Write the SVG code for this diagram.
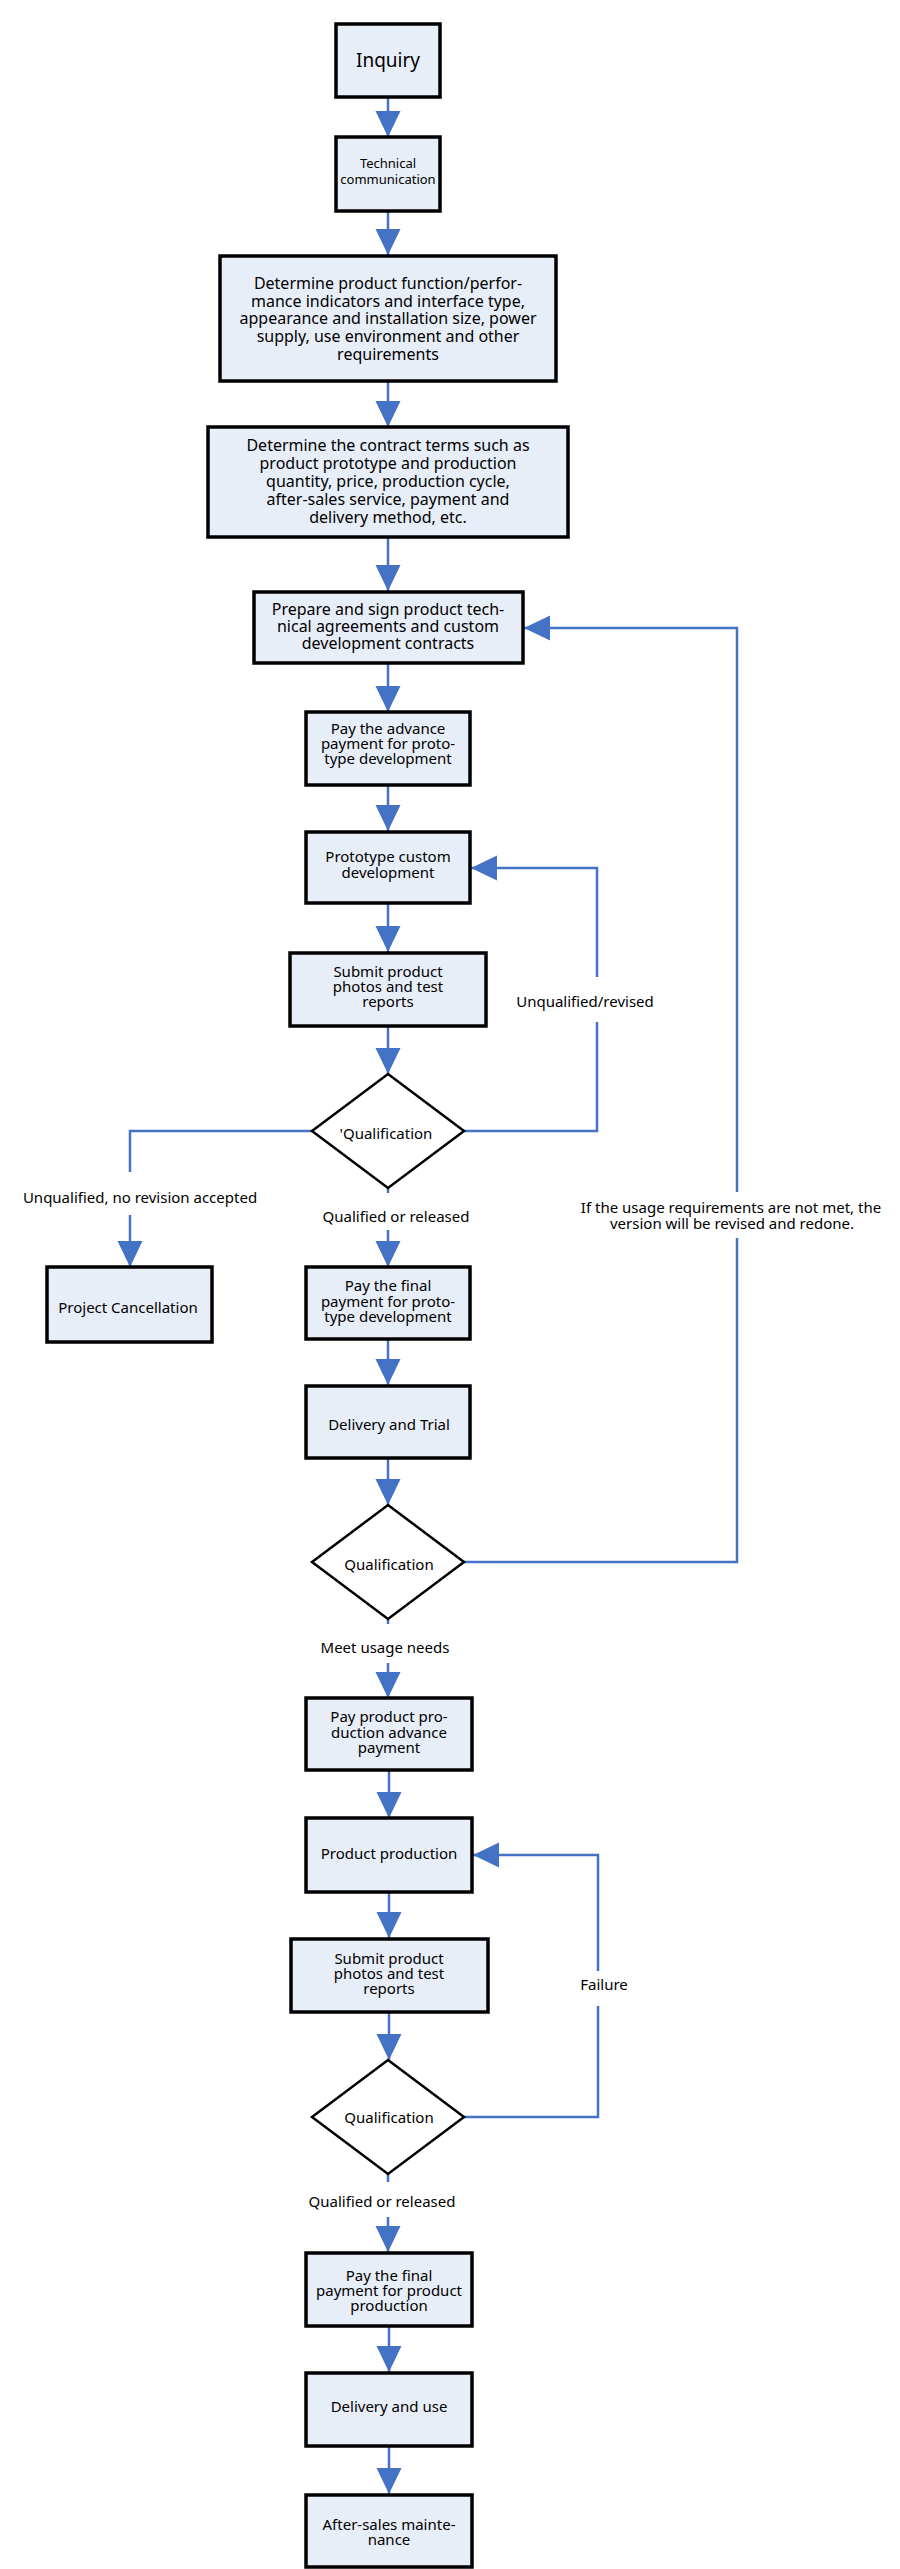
<svg xmlns="http://www.w3.org/2000/svg" width="900" height="2569" viewBox="0 0 900 2569">
<defs>
<marker id="ah" markerUnits="userSpaceOnUse" markerWidth="26" markerHeight="26" refX="26" refY="12.5" orient="auto">
<path d="M0,0 L26,12.5 L0,25 z" fill="#4472C4"/>
</marker>
<style>
.box{fill:#E8EEF8;stroke:#000;stroke-width:3.5}
.dia{fill:#fff;stroke:#000;stroke-width:2.5}
.c{fill:none;stroke:#4472C4;stroke-width:2.5}
text{font-family:"Noto Sans","Liberation Sans",Arial,sans-serif;fill:#000;text-anchor:middle}
.t15{font-size:15px}
.t16{font-size:16px}
.t13{font-size:13px}
.t19{font-size:19px}
</style>
</defs>
<rect width="900" height="2569" fill="#fff"/>
<g id="connectors">
<path class="c" d="M388,97 V137" marker-end="url(#ah)"/>
<path class="c" d="M388,211 V255" marker-end="url(#ah)"/>
<path class="c" d="M388,381 V427" marker-end="url(#ah)"/>
<path class="c" d="M388,537 V591" marker-end="url(#ah)"/>
<path class="c" d="M388,663 V712" marker-end="url(#ah)"/>
<path class="c" d="M388,785 V831" marker-end="url(#ah)"/>
<path class="c" d="M388,903 V952" marker-end="url(#ah)"/>
<path class="c" d="M388,1026 V1074" marker-end="url(#ah)"/>
<path class="c" d="M464,1131 H597 V1022"/>
<path class="c" d="M597,977 V868 H471" marker-end="url(#ah)"/>
<path class="c" d="M312,1131 H130 V1172"/>
<path class="c" d="M130,1215 V1267" marker-end="url(#ah)"/>
<path class="c" d="M388,1188 V1193"/>
<path class="c" d="M388,1230 V1267" marker-end="url(#ah)"/>
<path class="c" d="M388,1339 V1385" marker-end="url(#ah)"/>
<path class="c" d="M388,1458 V1505" marker-end="url(#ah)"/>
<path class="c" d="M464,1562 H737 V1238"/>
<path class="c" d="M737,1192 V628 H524" marker-end="url(#ah)"/>
<path class="c" d="M388,1619 V1624"/>
<path class="c" d="M388,1663 V1698" marker-end="url(#ah)"/>
<path class="c" d="M389,1770 V1818" marker-end="url(#ah)"/>
<path class="c" d="M389,1892 V1938" marker-end="url(#ah)"/>
<path class="c" d="M464,2117 H598 V2006"/>
<path class="c" d="M598,1971 V1855 H473" marker-end="url(#ah)"/>
<path class="c" d="M389,2012 V2060" marker-end="url(#ah)"/>
<path class="c" d="M388,2174 V2182"/>
<path class="c" d="M388,2217 V2252" marker-end="url(#ah)"/>
<path class="c" d="M389,2326 V2372" marker-end="url(#ah)"/>
<path class="c" d="M389,2446 V2494" marker-end="url(#ah)"/>
</g>
<g id="labels">
<text class="t15" x="585" y="1007">Unqualified/revised</text>
<text class="t15" x="731" y="1213">If the usage requirements are not met, the</text>
<text class="t15" x="732" y="1229">version will be revised and redone.</text>
<text class="t15" x="140" y="1203">Unqualified, no revision accepted</text>
<text class="t15" x="396" y="1222">Qualified or released</text>
<text class="t15" x="385" y="1653">Meet usage needs</text>
<text class="t15" x="604" y="1990">Failure</text>
<text class="t15" x="382" y="2207">Qualified or released</text>
</g>
<g id="n_inquiry">
<rect class="box" x="336" y="24" width="104" height="73"/>
<text class="t19" x="388" y="67">Inquiry</text>
</g>
<g id="n_tech">
<rect class="box" x="336" y="137" width="104" height="74"/>
<text class="t13" x="388" y="168">Technical</text>
<text class="t13" x="388" y="184">communication</text>
</g>
<g id="n_function">
<rect class="box" x="220" y="256" width="336" height="125"/>
<text class="t16" x="388" y="289">Determine product function/perfor-</text>
<text class="t16" x="388" y="307">mance indicators and interface type,</text>
<text class="t16" x="388" y="324">appearance and installation size, power</text>
<text class="t16" x="388" y="342">supply, use environment and other</text>
<text class="t16" x="388" y="360">requirements</text>
</g>
<g id="n_contract">
<rect class="box" x="208" y="427" width="360" height="110"/>
<text class="t16" x="388" y="451">Determine the contract terms such as</text>
<text class="t16" x="388" y="469">product prototype and production</text>
<text class="t16" x="388" y="487">quantity, price, production cycle,</text>
<text class="t16" x="388" y="505">after-sales service, payment and</text>
<text class="t16" x="388" y="523">delivery method, etc.</text>
</g>
<g id="n_sign">
<rect class="box" x="254" y="592" width="269" height="71"/>
<text class="t16" x="388" y="615">Prepare and sign product tech-</text>
<text class="t16" x="388" y="632">nical agreements and custom</text>
<text class="t16" x="388" y="649">development contracts</text>
</g>
<g id="n_advance">
<rect class="box" x="306" y="712" width="164" height="73"/>
<text class="t15" x="388" y="734">Pay the advance</text>
<text class="t15" x="388" y="749">payment for proto-</text>
<text class="t15" x="388" y="764">type development</text>
</g>
<g id="n_proto">
<rect class="box" x="306" y="832" width="164" height="71"/>
<text class="t15" x="388" y="862">Prototype custom</text>
<text class="t15" x="388" y="878">development</text>
</g>
<g id="n_submit1">
<rect class="box" x="290" y="953" width="196" height="73"/>
<text class="t15" x="388" y="977">Submit product</text>
<text class="t15" x="388" y="992">photos and test</text>
<text class="t15" x="388" y="1007">reports</text>
</g>
<g id="n_qual1">
<polygon class="dia" points="388,1074 464,1131 388,1188 312,1131"/>
<text class="t15" x="386" y="1139">'Qualification</text>
</g>
<g id="n_cancel">
<rect class="box" x="47" y="1267" width="165" height="75"/>
<text class="t15" x="128" y="1313">Project Cancellation</text>
</g>
<g id="n_final1">
<rect class="box" x="306" y="1267" width="164" height="72"/>
<text class="t15" x="388" y="1291">Pay the final</text>
<text class="t15" x="388" y="1307">payment for proto-</text>
<text class="t15" x="388" y="1322">type development</text>
</g>
<g id="n_trial">
<rect class="box" x="306" y="1386" width="164" height="72"/>
<text class="t15" x="389" y="1430">Delivery and Trial</text>
</g>
<g id="n_qual2">
<polygon class="dia" points="388,1505 464,1562 388,1619 312,1562"/>
<text class="t15" x="389" y="1570">Qualification</text>
</g>
<g id="n_prodadv">
<rect class="box" x="306" y="1698" width="166" height="72"/>
<text class="t15" x="389" y="1722">Pay product pro-</text>
<text class="t15" x="389" y="1738">duction advance</text>
<text class="t15" x="389" y="1753">payment</text>
</g>
<g id="n_production">
<rect class="box" x="306" y="1818" width="166" height="74"/>
<text class="t15" x="389" y="1859">Product production</text>
</g>
<g id="n_submit2">
<rect class="box" x="291" y="1939" width="197" height="73"/>
<text class="t15" x="389" y="1964">Submit product</text>
<text class="t15" x="389" y="1979">photos and test</text>
<text class="t15" x="389" y="1994">reports</text>
</g>
<g id="n_qual3">
<polygon class="dia" points="388,2060 464,2117 388,2174 312,2117"/>
<text class="t15" x="389" y="2123">Qualification</text>
</g>
<g id="n_final2">
<rect class="box" x="306" y="2253" width="166" height="73"/>
<text class="t15" x="389" y="2281">Pay the final</text>
<text class="t15" x="389" y="2296">payment for product</text>
<text class="t15" x="389" y="2311">production</text>
</g>
<g id="n_use">
<rect class="box" x="306" y="2373" width="166" height="73"/>
<text class="t15" x="389" y="2412">Delivery and use</text>
</g>
<g id="n_aftersales">
<rect class="box" x="306" y="2495" width="166" height="72"/>
<text class="t15" x="389" y="2530">After-sales mainte-</text>
<text class="t15" x="389" y="2545">nance</text>
</g>
</svg>
